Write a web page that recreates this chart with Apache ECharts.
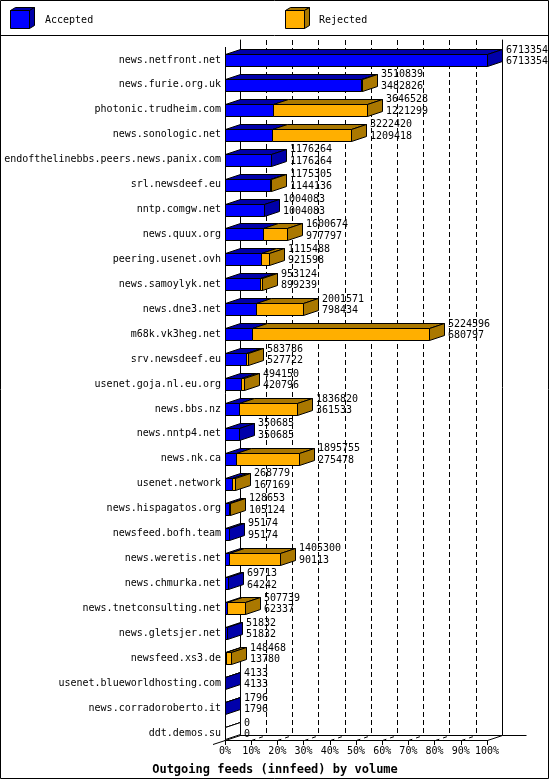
<!DOCTYPE html>
<html>
<head>
<meta charset="utf-8">
<script src="https://cdn.jsdelivr.net/npm/echarts@6/dist/echarts.min.js"></script>
<style>
html,body{margin:0;padding:0;background:#fff;}
#chart{width:550px;height:780px;}
</style>
</head>
<body>
<div id="chart"></div>
<script>
const categories = [
  'news.netfront.net','news.furie.org.uk','photonic.trudheim.com','news.sonologic.net',
  'endofthelinebbs.peers.news.panix.com','srl.newsdeef.eu','nntp.comgw.net','news.quux.org',
  'peering.usenet.ovh','news.samoylyk.net','news.dne3.net','m68k.vk3heg.net',
  'srv.newsdeef.eu','usenet.goja.nl.eu.org','news.bbs.nz','news.nntp4.net',
  'news.nk.ca','usenet.network','news.hispagatos.org','newsfeed.bofh.team',
  'news.weretis.net','news.chmurka.net','news.tnetconsulting.net','news.gletsjer.net',
  'newsfeed.xs3.de','usenet.blueworldhosting.com','news.corradoroberto.it','ddt.demos.su'
];
const totals = [
  6713354,3510839,3646528,3222420,1176264,1175305,1004083,1600674,
  1115488,953124,2001571,5224596,583786,494150,1836820,350685,
  1895755,268779,128653,95174,1405300,69713,507739,51832,
  148468,4133,1796,0
];
const accepted = [
  6713354,3482826,1221299,1209418,1176264,1144136,1004083,977797,
  921598,899239,798434,680797,527722,420796,361533,350685,
  275478,167169,105124,95174,90113,64242,62337,51832,
  13780,4133,1796,0
];
const legendNames = ['Accepted','Rejected'];
const titleText = 'Outgoing feeds (innfeed) by volume';

const BLUE = '#0000ff', BLUE_D = '#0000aa';
const ORANGE = '#ffaf00', ORANGE_D = '#aa7800';
const MONO = 'DejaVu Sans Mono';
const DX = 15, DY = 5;

const maxTotal = Math.max.apply(null, totals);
const data = categories.map((c, i) => [i, accepted[i] / maxTotal * 100, totals[i] / maxTotal * 100, totals[i], accepted[i]]);

function px(v){ return Math.round(v) + 0.5; }

function renderItem(params, api) {
  const i = api.value(0);
  const a = api.value(1), t = api.value(2);
  const tot = api.value(3), acc = api.value(4);
  const p0 = api.coord([0, i]), pa = api.coord([a, i]), pt = api.coord([t, i]);
  const cy = p0[1];
  const y0 = px(cy - 6), y1 = px(cy + 6);
  const x0 = px(p0[0]), xa = px(pa[0]), xt = px(pt[0]);
  const ln = {stroke: '#000', lineWidth: 1};
  const ch = [];
  if (xa > x0) ch.push({type:'rect', shape:{x:x0, y:y0, width:xa-x0, height:y1-y0}, style:Object.assign({fill:BLUE}, ln)});
  if (xt > xa) ch.push({type:'rect', shape:{x:xa, y:y0, width:xt-xa, height:y1-y0}, style:Object.assign({fill:ORANGE}, ln)});
  ch.push({type:'polygon', shape:{points:[[x0,y0],[x0+DX,y0-DY],[xa+DX,y0-DY],[xa,y0]]}, style:Object.assign({fill:BLUE_D}, ln)});
  if (xt > xa) ch.push({type:'polygon', shape:{points:[[xa,y0],[xa+DX,y0-DY],[xt+DX,y0-DY],[xt,y0]]}, style:Object.assign({fill:ORANGE_D}, ln)});
  const sideFill = tot === 0 ? '#fff' : (xt > xa ? ORANGE_D : BLUE_D);
  ch.push({type:'polygon', shape:{points:[[xt,y0],[xt+DX,y0-DY],[xt+DX,y1-DY],[xt,y1]]}, style:Object.assign({fill:sideFill}, ln)});
  const tx = Math.round(pt[0]) + DX + 4;
  ch.push({type:'text', style:{text:String(tot), x:tx, y:cy-10, fontFamily:MONO, fontSize:10, fill:'#000', verticalAlign:'middle'}});
  ch.push({type:'text', style:{text:String(acc), x:tx, y:cy+1.5, fontFamily:MONO, fontSize:10, fill:'#000', verticalAlign:'middle'}});
  return {type:'group', children:ch};
}

// layout constants (pixels)
const FL = 225, FW = 262, FLOOR = 740;
const BL = FL + DX, BFLOOR = FLOOR - DY;

const g = [];
g.push({type:'rect', shape:{x:0.5, y:0.5, width:548, height:778}, style:{fill:'none', stroke:'#000', lineWidth:1}});
g.push({type:'line', shape:{x1:0, y1:35.5, x2:549, y2:35.5}, style:{stroke:'#000', lineWidth:1}});
function cube(x, front, dark, label, tx){
  const s = {stroke:'#000', lineWidth:1};
  g.push({type:'rect', shape:{x:x+0.5, y:10.5, width:19, height:18}, style:Object.assign({fill:front}, s)});
  g.push({type:'polygon', shape:{points:[[x+0.5,10.5],[x+5.5,7.5],[x+24.5,7.5],[x+19.5,10.5]]}, style:Object.assign({fill:dark}, s)});
  g.push({type:'polygon', shape:{points:[[x+19.5,10.5],[x+24.5,7.5],[x+24.5,25.5],[x+19.5,28.5]]}, style:Object.assign({fill:dark}, s)});
  g.push({type:'text', x:tx, y:20, style:{text:label, fontFamily:MONO, fontSize:10, fill:'#000', verticalAlign:'middle'}});
}
cube(10, BLUE, BLUE_D, legendNames[0], 45);
cube(285, ORANGE, ORANGE_D, legendNames[1], 319);
const L = {stroke:'#000', lineWidth:1};
g.push({type:'line', z:1, shape:{x1:FL+0.5, y1:47, x2:FL+0.5, y2:FLOOR+0.5}, style:L});
g.push({type:'line', shape:{x1:FL-12, y1:FLOOR+4.5, x2:BL+0.5, y2:BFLOOR+0.5}, style:L});
g.push({type:'line', shape:{x1:FL+FW+0.5, y1:FLOOR+0.5, x2:BL+FW+0.5, y2:BFLOOR+0.5}, style:L});
g.push({type:'line', shape:{x1:BL+FW+0.5, y1:BFLOOR+0.5, x2:BL+FW+24.5, y2:BFLOOR+0.5}, style:L});
for (let k = 1; k <= 9; k++) {
  const x = FL + k * FW / 10;
  g.push({type:'line', shape:{x1:Math.round(x)+0.5, y1:FLOOR+0.5, x2:Math.round(x)+DX+0.5, y2:BFLOOR+0.5}, style:{stroke:'#000', lineWidth:1, lineDash:[4,4]}});
}

const chart = echarts.init(document.getElementById('chart'), null, {renderer:'canvas'});
chart.setOption({
  animation:false,
  backgroundColor:'#fff',
  title:{text:titleText, left:'center', top:759, textStyle:{fontFamily:MONO, fontWeight:'bold', fontSize:12, color:'#000'}},
  grid:[
    {left:FL, width:FW, top:47.5, bottom:34.5},
    {left:BL, width:FW, top:40, bottom:780-BFLOOR},
    {left:FL, width:FW, top:FLOOR-10, bottom:780-FLOOR}
  ],
  xAxis:[
    {gridIndex:0, type:'value', min:0, max:100, interval:10, show:false},
    {gridIndex:1, type:'value', min:0, max:100, interval:10,
      axisLine:{show:true, lineStyle:{color:'#000', width:1}}, axisTick:{show:false}, axisLabel:{show:false},
      splitLine:{show:true, showMinLine:false, showMaxLine:false, lineStyle:{color:'#000', width:1, type:[5,3]}}},
    {gridIndex:2, type:'value', min:0, max:100, interval:10,
      axisLine:{show:true, lineStyle:{color:'#000', width:1}},
      axisTick:{show:true, length:5, lineStyle:{color:'#000'}},
      axisLabel:{show:true, margin:6, formatter:v => v + '%', fontFamily:MONO, fontSize:10, color:'#000'},
      splitLine:{show:false}}
  ],
  yAxis:[
    {gridIndex:0, type:'category', inverse:true, data:categories,
      axisLine:{show:false}, axisTick:{show:false}, splitLine:{show:false},
      axisLabel:{show:true, margin:4, fontFamily:MONO, fontSize:10, color:'#000', interval:0}},
    {gridIndex:1, type:'value', min:0, max:1, position:'left',
      axisLine:{show:true, lineStyle:{color:'#000', width:1}}, axisTick:{show:false}, axisLabel:{show:false}, splitLine:{show:false}},
    {gridIndex:1, type:'value', min:0, max:1, position:'right',
      axisLine:{show:true, lineStyle:{color:'#000', width:1}}, axisTick:{show:false}, axisLabel:{show:false}, splitLine:{show:false}},
    {gridIndex:2, type:'value', min:0, max:1, show:false}
  ],
  graphic:{elements:g},
  series:[{
    type:'custom', name:'feeds', coordinateSystem:'cartesian2d', xAxisIndex:0, yAxisIndex:0,
    renderItem:renderItem, data:data, encode:{x:[1,2], y:0}, silent:true, z:5, clip:false
  }]
});
</script>
</body>
</html>
